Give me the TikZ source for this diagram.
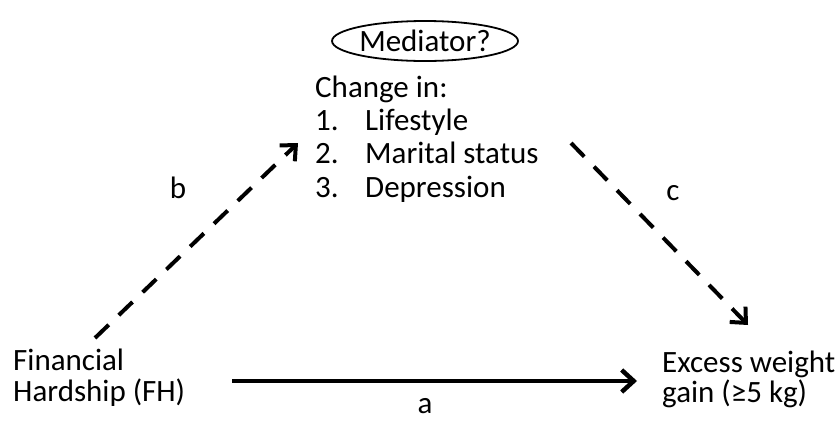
\documentclass[tikz,border=0pt]{standalone}
\usepackage{fontspec}
\setmainfont{Carlito}
\usetikzlibrary{arrows.meta,shapes.geometric}

\begin{document}
\begin{tikzpicture}[x=1pt, y=-1pt, >={Straight Barb[length=12pt, width=22pt]},
	txt/.style={font=\fontsize{31}{35}\selectfont, inner sep=0pt, anchor=base west},
	path label/.style={font=\fontsize{31}{35}\selectfont, inner sep=0pt, anchor=base},
	med node/.style={ellipse, draw, line width=1.8pt, minimum width=176pt, minimum height=40pt, inner sep=0pt, font=\fontsize{31}{35}\selectfont},
	dash link/.style={->, line width=4pt, dash pattern=on 19pt off 14pt},
	main link/.style={->, line width=4.5pt}]
	\useasboundingbox (0,0) rectangle (837,421);
	% mediator block
	\node[med node] (med) at (425,41) {Mediator?};
	\node[txt] (chg) at (315,97) {Change in:};
	\node[txt] (n1) at (315,130) {1.};
	\node[txt] (m1) at (365,130) {Lifestyle};
	\node[txt] (n2) at (315,163) {2.};
	\node[txt] (m2) at (365,163) {Marital status};
	\node[txt] (n3) at (315,197) {3.};
	\node[txt] (m3) at (365,197) {Depression};
	% exposure and outcome
	\node[txt] (fh1) at (13,370) {Financial};
	\node[txt] (fh2) at (13,401) {Hardship (FH)};
	\node[txt] (ew1) at (662,372) {Excess weight};
	\node[txt] (ew2) at (662,402) {gain (≥5 kg)};
	% arrow ends
	\coordinate (b0) at (95,338);
	\coordinate (b1) at (298,143);
	\coordinate (c0) at (571,143);
	\coordinate (c1) at (748,325);
	\coordinate (a0) at (232,381);
	\coordinate (a1) at (637,381);
	\draw[dash link] (b0) -- (b1);
	\draw[dash link] (c0) -- (c1);
	\draw[main link] (a0) -- (a1);
	\node[path label] (lb) at (178,198) {b};
	\node[path label] (lc) at (673,200) {c};
	\node[path label] (la) at (425,413) {a};
\end{tikzpicture}
\end{document}
